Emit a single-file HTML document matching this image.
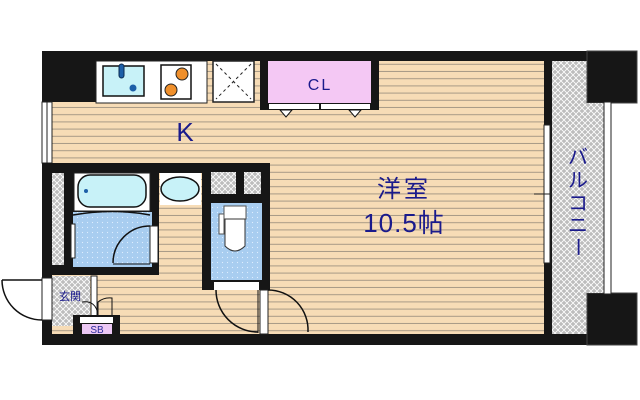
<!DOCTYPE html>
<html><head><meta charset="utf-8"><style>
html,body{margin:0;padding:0;background:#fff;width:640px;height:400px;overflow:hidden}
svg{display:block}
text{font-family:"Liberation Sans","Noto Sans CJK JP",sans-serif;fill:#1a1a8c}
</style></head><body>
<svg width="640" height="400" viewBox="0 0 640 400" xmlns="http://www.w3.org/2000/svg">
<defs>
<pattern id="fl" width="8" height="7.2" patternUnits="userSpaceOnUse">
<rect width="8" height="7.2" fill="#f7dcb6"/><rect y="6.2" width="8" height="1" fill="#a89a86"/>
</pattern>
<pattern id="ht" width="6" height="6" patternUnits="userSpaceOnUse">
<rect width="6" height="6" fill="#bdbdbd"/><path d="M0 0L6 6M6 0L0 6" stroke="#fff" stroke-width="0.8"/>
</pattern>
<pattern id="bl" width="5" height="5" patternUnits="userSpaceOnUse">
<rect width="5" height="5" fill="#a8cdf0"/><circle cx="2.5" cy="2.5" r="0.6" fill="#dfeeff"/>
</pattern>
</defs>
<rect x="42" y="51" width="510" height="294" fill="#161616"/>
<rect x="52" y="61" width="492" height="273" fill="url(#fl)"/>
<rect x="52" y="61" width="44" height="41" fill="#161616"/>
<rect x="42" y="102" width="10" height="61" fill="#fff" stroke="#222" stroke-width="1"/>
<line x1="47" y1="102" x2="47" y2="163" stroke="#222"/>
<rect x="96" y="61" width="111" height="42" fill="#fff" stroke="#222"/>
<rect x="103" y="66" width="41" height="30" fill="#c8f2f8" stroke="#111" stroke-width="1.5"/>
<rect x="119" y="64" width="5" height="14" rx="2.5" fill="#1d5fa8" stroke="#0a2a50"/>
<circle cx="133" cy="88" r="3.5" fill="#1d5fa8"/>
<rect x="161" y="65" width="30" height="34" fill="#fff" stroke="#111" stroke-width="1.5"/>
<circle cx="182" cy="74" r="6" fill="#f0902c" stroke="#222"/>
<circle cx="171" cy="90" r="6" fill="#f0902c" stroke="#222"/>
<rect x="213" y="61" width="41" height="41" fill="#fff" stroke="#222" stroke-width="1.5"/>
<path d="M216 64L251 99M251 64L216 99" stroke="#222" stroke-dasharray="3,3"/>
<rect x="260" y="56" width="119" height="54" fill="#161616"/>
<rect x="268" y="61" width="103" height="42" fill="#f4c8f4"/>
<rect x="269" y="104" width="50" height="5" fill="#fff"/><rect x="321" y="104" width="49" height="5" fill="#fff"/>
<path d="M280 110L292 110L286 117Z" fill="#fff" stroke="#111"/>
<path d="M349 110L361 110L355 117Z" fill="#fff" stroke="#111"/>
<text x="320" y="90" font-size="16" text-anchor="middle" letter-spacing="2">CL</text>
<text x="185" y="141" font-size="26" text-anchor="middle">K</text>
<rect x="42" y="163" width="228" height="10" fill="#161616"/>
<rect x="42" y="163" width="117" height="112" fill="#161616"/>
<rect x="52" y="173" width="12" height="92" fill="url(#ht)"/>
<rect x="73" y="212" width="79" height="55" fill="url(#bl)"/>
<rect x="74" y="173" width="76" height="38" fill="#fff" stroke="#222"/>
<rect x="78" y="175" width="68" height="32" rx="12" fill="#c8f2f8" stroke="#111" stroke-width="1.5"/>
<circle cx="86" cy="191" r="2" fill="#1d5fa8"/>
<path d="M73 215Q112 208 150 215" stroke="#111" fill="none" stroke-width="1.5"/>
<rect x="71" y="224" width="4" height="34" fill="#fff" stroke="#222"/>
<path d="M150 226A37 37 0 0 0 113 263" stroke="#111" fill="none" stroke-width="1.5"/>
<line x1="113" y1="264" x2="150" y2="264" stroke="#111"/>
<rect x="150" y="226" width="8" height="37" fill="#fff" stroke="#222"/>
<rect x="160" y="173" width="41" height="32" fill="#fff"/>
<ellipse cx="180" cy="189" rx="19" ry="12" fill="#c8f2f8" stroke="#111" stroke-width="1.5"/>
<rect x="202" y="163" width="68" height="127" fill="#161616"/>
<rect x="211" y="172" width="25" height="22" fill="url(#ht)"/>
<rect x="244" y="172" width="17" height="22" fill="url(#ht)"/>
<rect x="211" y="203" width="51" height="77" fill="url(#bl)"/>
<rect x="224" y="206" width="22" height="13" fill="#fff" stroke="#555"/>
<path d="M225 219L245 219L245 246Q235 256 225 246Z" fill="#fff" stroke="#333"/>
<rect x="219" y="214" width="5" height="20" fill="#fff" stroke="#555"/>
<rect x="214" y="282" width="45" height="8" fill="#fff"/>
<path d="M216 290A42 42 0 0 0 258 332" stroke="#111" fill="none" stroke-width="1.5"/>
<line x1="258" y1="290" x2="258" y2="333" stroke="#111"/>
<rect x="260" y="290" width="8" height="44" fill="#fff" stroke="#222"/>
<path d="M268 290A40 40 0 0 1 308 332" stroke="#111" fill="none" stroke-width="1.5"/>
<rect x="52" y="276" width="38" height="50" fill="url(#ht)"/>
<rect x="91" y="276" width="6" height="40" fill="#fff" stroke="#222"/>
<text x="70" y="300" font-size="11" text-anchor="middle">玄関</text>
<path d="M82 302Q96 300 98 315M98 315L98 302Q104 297 112 298L112 315" stroke="#111" fill="none"/>
<rect x="73" y="315" width="47" height="20" fill="#161616"/>
<rect x="80" y="317" width="33" height="6" fill="#fff"/>
<rect x="82" y="324" width="30" height="10" fill="#ecc8f4"/>
<text x="97" y="333" font-size="10" text-anchor="middle" style="fill:#2a2a9a">SB</text>
<rect x="42" y="278" width="10" height="42" fill="#fff" stroke="#222"/>
<path d="M2 280L42 280M2 280A40 40 0 0 0 42 320" stroke="#111" fill="none" stroke-width="1.5"/>
<rect x="544" y="51" width="8" height="294" fill="#161616"/>
<rect x="544" y="125" width="6" height="138" fill="#fff" stroke="#222"/>
<line x1="534" y1="194" x2="562" y2="194" stroke="#222"/>
<rect x="552" y="61" width="35" height="273" fill="url(#ht)"/>
<rect x="552" y="51" width="85" height="10" fill="#161616"/>
<rect x="552" y="334" width="85" height="11" fill="#161616"/>
<rect x="587" y="51" width="50" height="52" fill="#161616" stroke="#444"/>
<rect x="587" y="293" width="50" height="52" fill="#161616" stroke="#444"/>
<rect x="587" y="103" width="17" height="190" fill="url(#ht)"/>
<rect x="604" y="102" width="7" height="192" fill="#fff" stroke="#222"/>
<text x="578" y="164" font-size="20" text-anchor="middle">バ</text>
<text x="578" y="187" font-size="20" text-anchor="middle">ル</text>
<text x="578" y="210" font-size="20" text-anchor="middle">コ</text>
<text x="578" y="232" font-size="20" text-anchor="middle">ニ</text>
<text x="578" y="254" font-size="20" text-anchor="middle" transform="rotate(90 578 247)">ー</text>
<text x="404" y="197" font-size="24" text-anchor="middle" letter-spacing="3">洋室</text>
<text x="404" y="232" font-size="26" text-anchor="middle" letter-spacing="1">10.5帖</text>
</svg>
</body></html>
